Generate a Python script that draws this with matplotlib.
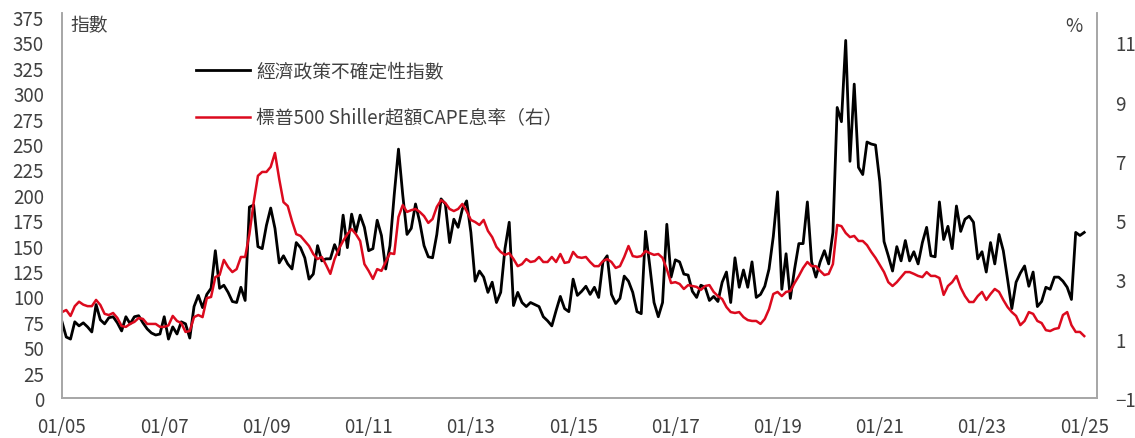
import matplotlib
matplotlib.use("Agg")
import matplotlib.pyplot as plt

plt.rcParams['font.family'] = ['Noto Sans CJK TC', 'DejaVu Sans']
plt.rcParams['font.weight'] = 'light'

# ---------------- données (mensuelles, 01/2005 -> 01/2025) ----------------
epu = [
    75, 60, 58, 75, 71, 74, 70, 65, 92, 77, 73, 79,            # 2005
    80, 74, 66, 80, 73, 80, 81, 74, 68, 64, 62, 63,            # 2006
    80, 58, 70, 63, 75, 73, 59, 90, 101, 89, 102, 108,         # 2007
    145, 108, 111, 104, 95, 94, 109, 96, 188, 190, 149, 147,   # 2008
    170, 187, 167, 133, 140, 132, 127, 153, 148, 138, 117, 122,  # 2009
    150, 135, 137, 137, 151, 141, 180, 148, 181, 163, 180, 168,  # 2010
    145, 147, 175, 160, 127, 150, 200, 245, 200, 161, 167, 191,  # 2011
    173, 150, 139, 138, 161, 196, 191, 153, 176, 168, 186, 194,  # 2012
    163, 115, 125, 119, 104, 114, 94, 104, 147, 173, 91, 104,    # 2013
    94, 90, 94, 92, 90, 80, 76, 71, 86, 100, 88, 85,             # 2014
    117, 101, 105, 110, 102, 109, 99, 134, 140, 102, 93, 98,     # 2015
    120, 115, 104, 85, 83, 164, 130, 94, 80, 94, 171, 119,       # 2016
    136, 134, 122, 121, 105, 99, 111, 109, 96, 100, 95, 114,     # 2017
    124, 94, 138, 109, 126, 109, 134, 99, 102, 110, 127, 159,    # 2018
    203, 107, 142, 98, 127, 152, 152, 193, 134, 119, 134, 145,   # 2019
    132, 163, 286, 272, 352, 233, 309, 227, 220, 252, 250, 249,  # 2020
    213, 154, 140, 125, 149, 135, 155, 135, 144, 132, 153, 168,  # 2021
    140, 139, 193, 156, 169, 147, 189, 164, 176, 179, 173, 137,  # 2022
    144, 124, 153, 132, 161, 145, 117, 88, 114, 123, 130, 110,   # 2023
    124, 90, 95, 109, 107, 119, 119, 115, 109, 97, 163, 160,     # 2024
    163,                                                         # 2025
]

cape = [
    1.90, 1.97, 1.77, 2.10, 2.25, 2.15, 2.10, 2.10, 2.31, 2.14, 1.84, 1.80,  # 2005
    1.87, 1.70, 1.43, 1.40, 1.50, 1.57, 1.70, 1.67, 1.50, 1.50, 1.50, 1.40,  # 2006
    1.40, 1.45, 1.77, 1.60, 1.53, 1.23, 1.26, 1.73, 1.80, 1.73, 2.37, 2.41,  # 2007
    3.08, 3.15, 3.66, 3.42, 3.25, 3.35, 3.76, 3.76, 4.53, 5.60, 6.50, 6.63,  # 2008
    6.63, 6.80, 7.27, 6.39, 5.61, 5.48, 4.97, 4.53, 4.47, 4.30, 4.13, 3.86,  # 2009
    3.69, 3.76, 3.49, 3.19, 3.69, 4.03, 4.30, 4.53, 4.70, 4.53, 4.30, 3.52,  # 2010
    3.29, 3.02, 3.35, 3.29, 3.59, 3.89, 3.86, 5.11, 5.51, 5.28, 5.34, 5.38,  # 2011
    5.28, 5.14, 4.91, 5.04, 5.45, 5.68, 5.58, 5.38, 5.31, 5.38, 5.55, 5.31,  # 2012
    5.01, 4.94, 4.84, 5.01, 4.64, 4.43, 4.10, 3.93, 3.83, 3.89, 3.69, 3.45,  # 2013
    3.52, 3.69, 3.59, 3.62, 3.76, 3.59, 3.59, 3.76, 3.59, 3.86, 3.56, 3.59,  # 2014
    3.93, 3.76, 3.73, 3.76, 3.59, 3.45, 3.45, 3.62, 3.69, 3.59, 3.39, 3.45,  # 2015
    3.76, 4.13, 3.79, 3.76, 3.79, 3.96, 3.89, 3.83, 3.86, 3.73, 3.35, 2.88,  # 2016
    2.91, 2.85, 2.68, 2.81, 2.78, 2.75, 2.65, 2.78, 2.81, 2.58, 2.44, 2.34,  # 2017
    2.07, 1.90, 1.87, 1.90, 1.73, 1.63, 1.60, 1.60, 1.50, 1.67, 2.00, 2.51,  # 2018
    2.58, 2.44, 2.58, 2.61, 2.88, 3.12, 3.39, 3.59, 3.45, 3.45, 3.29, 3.15,  # 2019
    3.19, 3.52, 4.84, 4.80, 4.57, 4.43, 4.47, 4.30, 4.30, 4.16, 3.93, 3.73,  # 2020
    3.49, 3.25, 2.91, 2.78, 2.91, 3.08, 3.25, 3.25, 3.19, 3.12, 3.08, 3.25,  # 2021
    3.12, 3.12, 3.05, 2.48, 2.78, 2.91, 3.12, 2.72, 2.44, 2.24, 2.24, 2.44,  # 2022
    2.58, 2.31, 2.51, 2.68, 2.58, 2.31, 2.07, 1.90, 1.77, 1.46, 1.60, 1.90,  # 2023
    1.84, 1.60, 1.53, 1.29, 1.26, 1.33, 1.36, 1.80, 1.90, 1.46, 1.23, 1.23,  # 2024
    1.09,                                                                    # 2025
]

x_labels = ["01/05", "01/07", "01/09", "01/11", "01/13", "01/15",
            "01/17", "01/19", "01/21", "01/23", "01/25"]
left_ticks = list(range(0, 376, 25))
right_ticks = [-1, 1, 3, 5, 7, 9, 11]

label_epu = "經濟政策不確定性指數"
label_cape = "標普500 Shiller超額CAPE息率（右）"

# ---------------- style ----------------
GRIS_AXE = "#A6A6A6"
GRIS_TEXTE = "#404040"
ROUGE = "#DC0A1E"
FS = 13.5

fig = plt.figure(figsize=(11.35, 4.39), dpi=100)
ax = fig.add_axes([62 / 1135, 40 / 439, 1035 / 1135, 385 / 439])
ax2 = ax.twinx()

mois = list(range(len(epu)))
l1, = ax.plot(mois, epu, color="black", lw=2.0, label=label_epu)
l2, = ax2.plot(mois[:len(cape)], cape, color=ROUGE, lw=1.8, label=label_cape)

ax.set_xlim(0, 243)
ax.set_ylim(0, 379)
ax2.set_ylim(-1, -1 + 379 * 12 / 350)

ax.set_xticks(list(range(0, 241, 24)))
ax.set_xticklabels(x_labels)
ax.set_yticks(left_ticks)
ax2.set_yticks(right_ticks)

for a in (ax, ax2):
    a.tick_params(length=0, labelsize=FS, colors=GRIS_TEXTE)
    a.spines["top"].set_visible(False)
    for s in ("left", "right", "bottom"):
        a.spines[s].set_color(GRIS_AXE)
        a.spines[s].set_linewidth(1.2)
ax.tick_params(axis="x", pad=13)
ax.tick_params(axis="y", pad=13)
ax2.tick_params(axis="y", pad=13)

ax.text(8 / 1035, 1 - 12 / 385, "指數", transform=ax.transAxes,
        fontsize=FS, color=GRIS_TEXTE, va="center", ha="left")
ax.text(1 - 14 / 1035, 1 - 12 / 385, "%", transform=ax.transAxes,
        fontsize=FS, color=GRIS_TEXTE, va="center", ha="right")

leg = ax2.legend([l1, l2], [label_epu, label_cape], loc="upper left",
                 bbox_to_anchor=(196 / 1135, 1 - 62 / 439),
                 bbox_transform=fig.transFigure, frameon=False,
                 fontsize=FS, handlelength=2.9, handletextpad=0.3,
                 labelspacing=1.35, borderpad=0, borderaxespad=0)
for t in leg.get_texts():
    t.set_color(GRIS_TEXTE)

fig.savefig("out.png", dpi=100)
